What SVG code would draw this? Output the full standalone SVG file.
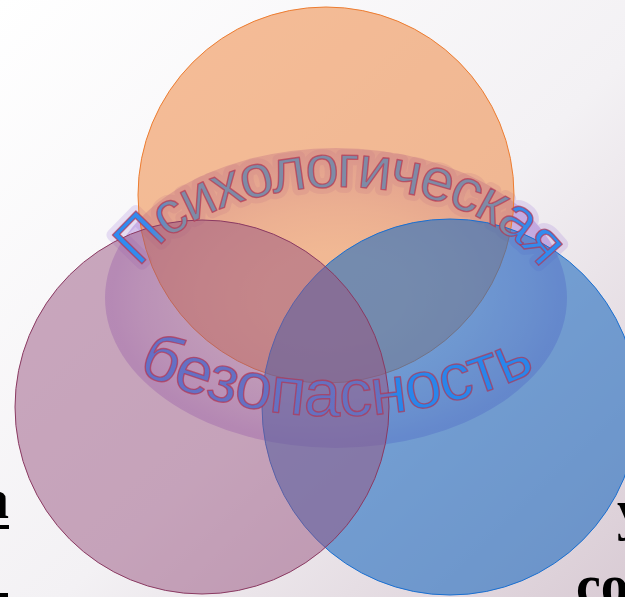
<svg xmlns="http://www.w3.org/2000/svg" width="625" height="597" viewBox="0 0 625 597">
<defs>
<linearGradient id="bg" x1="0" y1="0" x2="1" y2="1">
<stop offset="0" stop-color="#FFFFFF"/>
<stop offset="0.55" stop-color="#F3F1F4"/>
<stop offset="1" stop-color="#D9CBD4"/>
</linearGradient>
<radialGradient id="glow" cx="0.5" cy="0.5" r="0.5">
<stop offset="0.3" stop-color="#8040C8" stop-opacity="0"/>
<stop offset="0.6" stop-color="#8040C8" stop-opacity="0.1"/>
<stop offset="0.85" stop-color="#8040C8" stop-opacity="0.22"/>
<stop offset="0.97" stop-color="#8040C8" stop-opacity="0.3"/>
<stop offset="1" stop-color="#8040C8" stop-opacity="0.3"/>
</radialGradient>
<linearGradient id="topFill" gradientUnits="userSpaceOnUse" x1="120" y1="0" x2="570" y2="0">
<stop offset="0" stop-color="#2D8CF2"/>
<stop offset="0.067" stop-color="#3A8BEA"/>
<stop offset="0.111" stop-color="#7F8BA6"/>
<stop offset="0.856" stop-color="#7F8BA6"/>
<stop offset="0.878" stop-color="#3889EA"/>
<stop offset="1" stop-color="#2D8CF2"/>
</linearGradient>
<linearGradient id="botFill" gradientUnits="userSpaceOnUse" x1="135" y1="0" x2="545" y2="0">
<stop offset="0" stop-color="#6470C6"/>
<stop offset="0.617" stop-color="#6672BE"/>
<stop offset="0.634" stop-color="#2A86EA"/>
<stop offset="1" stop-color="#2A86EA"/>
</linearGradient>
<path id="arcTop" d="M 139.9,268.4 A 218 135 0 0 1 540.1,268.4"/>
<path id="arcBot" d="M 137,371.8 A 470 470 0 0 0 545,367"/>
<text id="topText" font-family="Liberation Sans, Arial, sans-serif" font-size="60"><textPath href="#arcTop" textLength="448" lengthAdjust="spacing">Психологическая</textPath></text>
<text id="botText" font-family="Liberation Sans, Arial, sans-serif" font-size="66"><textPath href="#arcBot" textLength="412" lengthAdjust="spacing">безопасность</textPath></text>
</defs>
<style>
.circ { stroke-width: 1; }
.edge { font-family: "Liberation Serif", "Times New Roman", serif; font-weight: bold; font-size: 56px; fill: #000; }
.txtglow { fill: #9A70D8; stroke: #9A70D8; stroke-width: 12; stroke-linejoin: round; }
.wa { stroke: #B8304A; stroke-opacity: 0.65; stroke-width: 1.4; stroke-linejoin: round; }
</style>
<rect x="0" y="0" width="625" height="597" fill="url(#bg)"/>
<g id="glow-layer">
<ellipse cx="336" cy="298" rx="231" ry="150" fill="url(#glow)"/>
<g opacity="0.2">
<use href="#topText" class="txtglow"/>
</g>
</g>
<g id="circle-top">
<circle class="circ" cx="326" cy="195" r="188" fill="#ED7D31" fill-opacity="0.5" stroke="#ED7D31"/>
</g>
<g id="circle-right">
<circle class="circ" cx="450" cy="407" r="188" fill="#216CC0" fill-opacity="0.6" stroke="#1A6FD0"/>
</g>
<g id="circle-left">
<circle class="circ" cx="202" cy="407" r="187" fill="#985480" fill-opacity="0.5" stroke="#8B3A62"/>
</g>
<g id="connectors"></g>
<g id="title">
<use href="#topText" class="wa" fill="url(#topFill)"/>
<use href="#botText" class="wa" fill="url(#botFill)"/>
</g>
<g id="edge-texts">
<text class="edge" x="-19" y="518">а</text>
<rect x="0" y="525" width="9" height="4" fill="#000"/>
<rect x="0" y="593" width="8" height="4" fill="#000"/>
<text class="edge" x="617" y="529">у</text>
<text class="edge" x="576" y="604">со</text>
</g>
</svg>
